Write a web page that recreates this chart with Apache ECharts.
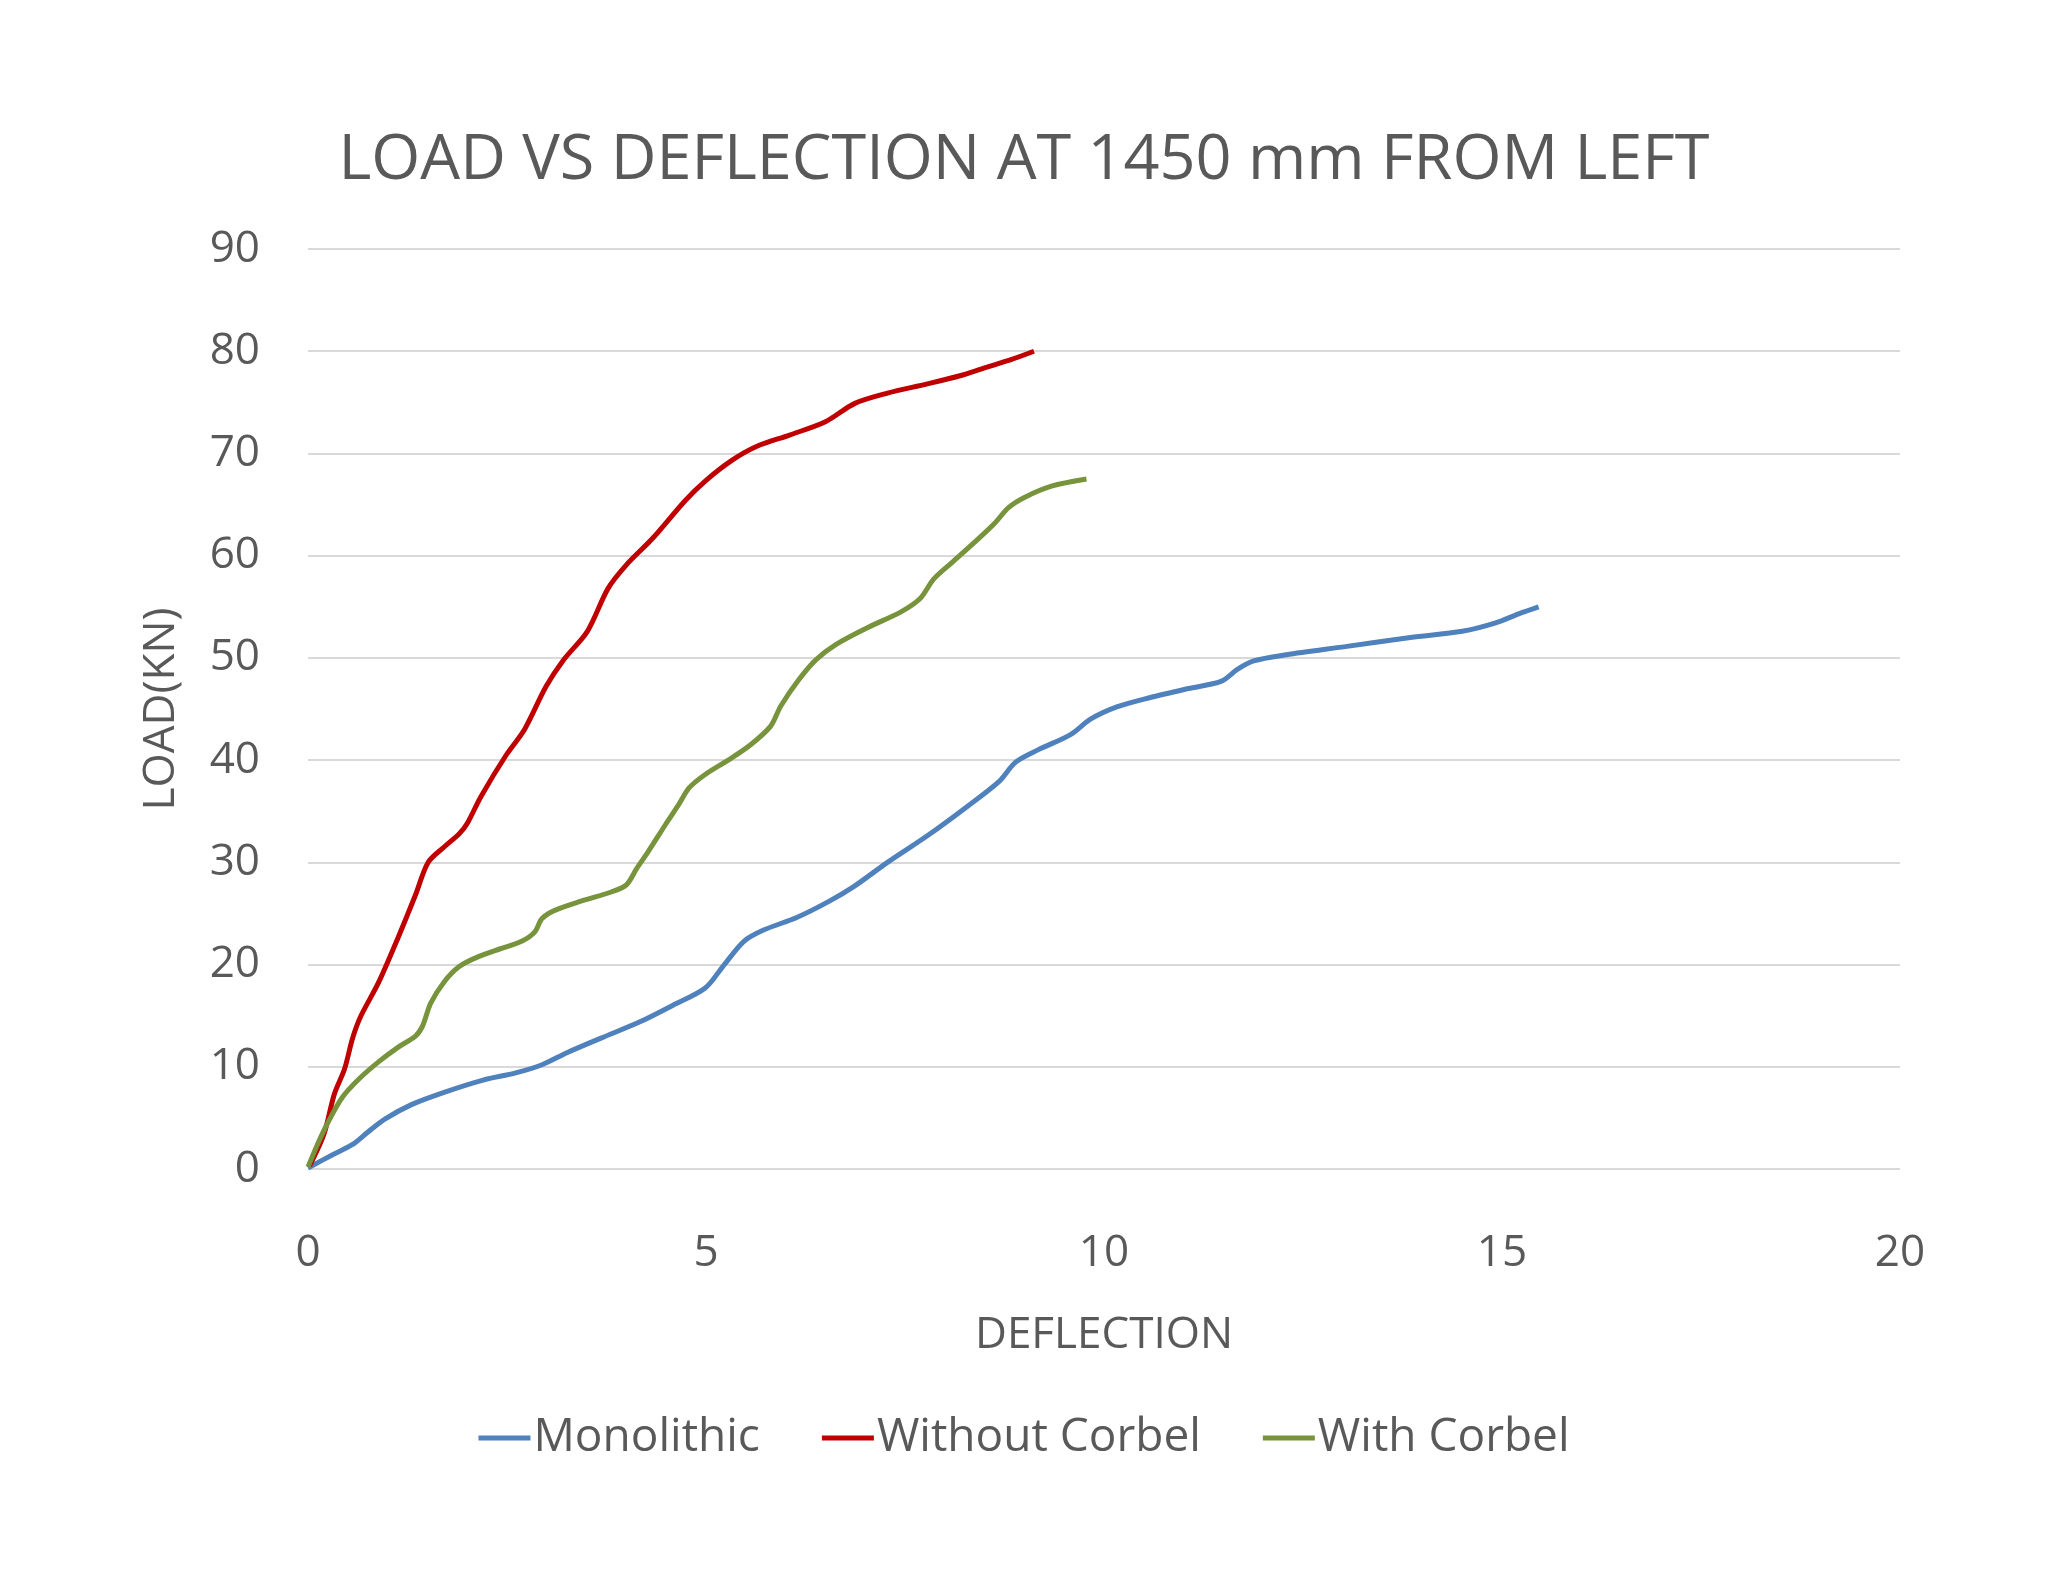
<!DOCTYPE html>
<html>
<head>
<meta charset="utf-8">
<script src="https://cdn.jsdelivr.net/npm/echarts@6/dist/echarts.min.js"></script>
<style>
html,body{margin:0;padding:0;background:#fff;}
#chart{width:2048px;height:1582px;}
</style>
</head>
<body>
<div id="chart"></div>
<script>
const titleText = 'LOAD VS DEFLECTION AT 1450 mm FROM LEFT';
const xAxisName = 'DEFLECTION';
const yAxisName = 'LOAD(KN)';
const seriesNames = ['Monolithic', 'Without Corbel', 'With Corbel'];

const monolithicX = [0, 0.31, 0.56, 0.75, 0.97, 1.3, 1.71, 2.2, 2.61, 2.94, 3.26, 3.68, 4.17, 4.58, 4.99, 5.23, 5.48, 5.73, 6.14, 6.55, 6.87, 7.28, 7.78, 8.27, 8.68, 8.89, 9.17, 9.58, 9.83, 10.16, 10.57, 11.06, 11.47, 11.68, 11.88, 12.29, 13.03, 13.85, 14.5, 14.91, 15.24, 15.46];
const monolithicY = [0.1, 1.4, 2.4, 3.6, 4.9, 6.3, 7.5, 8.7, 9.4, 10.2, 11.4, 12.8, 14.4, 16.0, 17.7, 20.0, 22.3, 23.4, 24.6, 26.2, 27.7, 30.0, 32.6, 35.4, 37.9, 39.8, 41.0, 42.5, 44.0, 45.2, 46.1, 47.0, 47.7, 48.9, 49.7, 50.3, 51.1, 52.0, 52.6, 53.4, 54.4, 55.0];

const withoutCorbelX = [0.02, 0.2, 0.33, 0.46, 0.56, 0.66, 0.89, 1.13, 1.35, 1.51, 1.71, 1.9, 2.0, 2.17, 2.49, 2.72, 2.99, 3.21, 3.51, 3.77, 4.0, 4.33, 4.74, 4.99, 5.32, 5.64, 6.05, 6.5, 6.87, 7.28, 7.78, 8.19, 8.51, 8.84, 9.12];
const withoutCorbelY = [0.3, 3.4, 7.3, 9.8, 12.8, 14.9, 18.3, 22.6, 26.8, 30.0, 31.5, 32.8, 33.8, 36.4, 40.5, 43.0, 47.2, 49.8, 52.6, 56.8, 59.1, 61.7, 65.4, 67.3, 69.3, 70.7, 71.8, 73.1, 74.9, 75.9, 76.8, 77.6, 78.4, 79.2, 80.0];

const withCorbelX = [0, 0.13, 0.26, 0.43, 0.64, 0.89, 1.13, 1.35, 1.44, 1.54, 1.71, 1.9, 2.12, 2.44, 2.69, 2.85, 2.94, 3.1, 3.43, 3.81, 4.0, 4.13, 4.27, 4.5, 4.66, 4.79, 4.99, 5.32, 5.56, 5.81, 5.94, 6.17, 6.38, 6.63, 7.04, 7.45, 7.69, 7.86, 8.1, 8.4, 8.63, 8.8, 9.0, 9.34, 9.78];
const withCorbelY = [0.2, 2.6, 4.7, 7.0, 8.8, 10.5, 11.9, 13.0, 14.0, 16.2, 18.3, 19.8, 20.7, 21.6, 22.3, 23.2, 24.5, 25.3, 26.2, 27.1, 27.8, 29.4, 31.0, 33.8, 35.7, 37.3, 38.6, 40.2, 41.5, 43.3, 45.3, 47.9, 49.8, 51.3, 53.0, 54.5, 55.8, 57.7, 59.4, 61.5, 63.2, 64.7, 65.7, 66.8, 67.5];

const colors = ['#4F81BD', '#C00000', '#77933C'];

function pairs(xs, ys) { return xs.map((x, i) => [x, ys[i]]); }

const font = '"Open Sans", "Noto Sans", sans-serif';
const textColor = '#595959';

const chart = echarts.init(document.getElementById('chart'));
const datasets = [pairs(monolithicX, monolithicY), pairs(withoutCorbelX, withoutCorbelY), pairs(withCorbelX, withCorbelY)];

chart.setOption({
  backgroundColor: '#ffffff',
  animation: false,
  title: {
    text: titleText,
    left: 'center',
    top: 130,
    padding: 0,
    textStyle: { fontFamily: font, fontSize: 63, fontWeight: 'normal', color: textColor }
  },
  legend: {
    data: seriesNames.map((n, i) => ({ name: n, icon: 'rect' })),
    left: 'center',
    top: 1410,
    itemWidth: 52,
    itemHeight: 5,
    itemGap: 62,
    textStyle: { fontFamily: font, fontSize: 46, color: textColor, padding: [0, 0, 0, -2] }
  },
  grid: { left: 308, right: 148, top: 249, bottom: 413, containLabel: false },
  xAxis: {
    type: 'value',
    min: 0, max: 20, interval: 5,
    name: xAxisName,
    nameLocation: 'middle',
    nameGap: 144,
    nameTextStyle: { fontFamily: font, fontSize: 44, color: textColor },
    axisLine: { show: false },
    axisTick: { show: false },
    splitLine: { show: false },
    axisLabel: { fontFamily: font, fontSize: 44, color: textColor, margin: 62 }
  },
  yAxis: {
    type: 'value',
    min: 0, max: 90, interval: 10,
    name: yAxisName,
    nameLocation: 'middle',
    nameGap: 125,
    nameTextStyle: { fontFamily: font, fontSize: 44, color: textColor },
    axisLine: { show: false },
    axisTick: { show: false },
    splitLine: { show: true, lineStyle: { color: '#D9D9D9', width: 2 } },
    axisLabel: { fontFamily: font, fontSize: 44, color: textColor, margin: 48 }
  },
  series: seriesNames.map((n, i) => ({
    name: n,
    type: 'line',
    data: datasets[i],
    smooth: 0.3,
    showSymbol: false,
    symbol: 'none',
    color: colors[i],
    lineStyle: { color: colors[i], width: 5 },
    itemStyle: { color: colors[i] }
  }))
});
</script>
</body>
</html>
